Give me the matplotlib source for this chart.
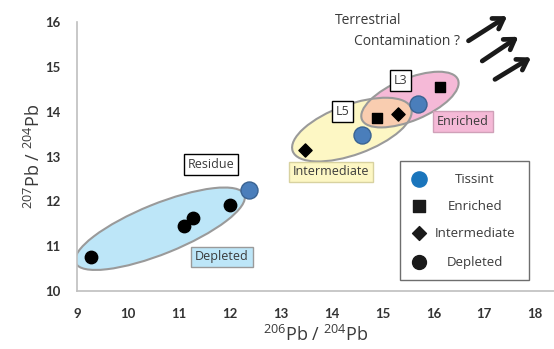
import matplotlib
matplotlib.use("Agg")
import matplotlib.pyplot as plt
from matplotlib.patches import Ellipse, Rectangle
from matplotlib.transforms import ScaledTranslation

plt.rcParams["font.family"] = ["Open Sans", "DejaVu Sans"]
plt.rcParams["mathtext.fontset"] = "custom"
plt.rcParams["mathtext.rm"] = "Open Sans"
plt.rcParams["mathtext.default"] = "regular"

# data
tissint_x = [12.38, 14.60, 15.69]
tissint_y = [12.26, 13.49, 14.18]
enriched_x = [14.90, 16.13]
enriched_y = [13.85, 14.55]
intermediate_x = [13.48, 15.30]
intermediate_y = [13.15, 13.94]
depleted_x = [9.27, 11.11, 11.28, 12.00]
depleted_y = [10.77, 11.46, 11.62, 11.93]

x_ticks = [9, 10, 11, 12, 13, 14, 15, 16, 17, 18]
y_ticks = [10, 11, 12, 13, 14, 15, 16]

legend_labels = ["Tissint", "Enriched", "Intermediate", "Depleted"]

EDGE = "#9a9a9a"
BLUE_FILL = "#bde6f8"
YELLOW_FILL = "#fdf7c4"
PINK_FILL = "#f5b9d7"
PEACH_FILL = "#f9cdb0"
TEXT = "#3a3a3a"

fig = plt.figure(figsize=(5.54, 3.49), dpi=100)
ax = fig.add_axes([0.139, 0.166, 0.861, 0.771])
ax.set_xlim(9, 18.37)
ax.set_ylim(10, 16)


def ellipse(cx, cy, w, h, angle, **kw):
    # size in inches, centre in data coords
    tr = fig.dpi_scale_trans + ScaledTranslation(cx, cy, ax.transData)
    e = Ellipse((0, 0), w, h, angle=angle, transform=tr, **kw)
    ax.add_patch(e)
    return e


# fields
ellipse(10.63, 11.39, 1.82, 0.50, 22, facecolor=BLUE_FILL, edgecolor=EDGE, lw=1.5, zorder=1)
yel = ellipse(14.40, 13.60, 1.26, 0.50, 20, facecolor=YELLOW_FILL, edgecolor="none", zorder=1)
ellipse(15.54, 14.27, 1.04, 0.42, 22.6, facecolor=PINK_FILL, edgecolor="none", zorder=1.1)
overlap = ellipse(15.54, 14.27, 1.04, 0.42, 22.6, facecolor=PEACH_FILL, edgecolor="none", zorder=1.2)
overlap.set_clip_path(yel)
ellipse(14.40, 13.60, 1.26, 0.50, 20, facecolor="none", edgecolor=EDGE, lw=1.5, zorder=1.3)
ellipse(15.54, 14.27, 1.04, 0.42, 22.6, facecolor="none", edgecolor=EDGE, lw=1.5, zorder=1.3)

# points
ax.scatter(depleted_x, depleted_y, s=80, marker="o", color="black", zorder=3)
ax.scatter(intermediate_x, intermediate_y, s=45, marker="D", color="black", zorder=3)
ax.scatter(enriched_x, enriched_y, s=60, marker="s", color="black", zorder=3)
ax.scatter(tissint_x, tissint_y, s=150, marker="o", color="#4a7ebb",
           edgecolor="#3a6392", lw=1.0, zorder=3)


# field labels
def label(x, y, s, fc, ec):
    ax.text(x, y, s, ha="center", va="center", fontsize=9, color=TEXT, zorder=4,
            bbox=dict(boxstyle="square,pad=0.3", fc=fc, ec=ec, lw=1.0))


label(11.85, 10.76, "Depleted", BLUE_FILL, EDGE)
label(13.99, 12.66, "Intermediate", YELLOW_FILL, "#d8d2a0")
label(16.58, 13.78, "Enriched", PINK_FILL, "#d0a0b8")
label(11.63, 12.82, "Residue", "white", "black")
label(14.21, 14.00, "L5", "white", "black")
label(15.35, 14.70, "L3", "white", "black")

ax.text(14.72, 16.04, "Terrestrial", ha="center", va="center", fontsize=10, color=TEXT)
ax.text(15.48, 15.57, "Contamination ?", ha="center", va="center", fontsize=10, color=TEXT)

arrows = [((16.69, 15.58), (17.45, 16.13)),
          ((16.96, 15.13), (17.67, 15.67)),
          ((17.21, 14.72), (17.92, 15.21))]
for start, end in arrows:
    ax.annotate("", xy=end, xytext=start, annotation_clip=False,
                arrowprops=dict(arrowstyle="->,head_length=0.7,head_width=0.45",
                                color="#1a1a1a", lw=3.4, shrinkA=0, shrinkB=0))

# legend drawn by hand so text can be centred
ax.add_patch(Rectangle((0.677, 0.041), 0.270, 0.442, transform=ax.transAxes,
                       fc="white", ec="#6e6e6e", lw=1.0, zorder=5))
leg_y = [(291 - py) / 269 for py in (179, 206, 233, 262)]
markers = [dict(marker="o", s=120, color="#1a75bc"),
           dict(marker="s", s=70, color="#1a1a1a"),
           dict(marker="D", s=50, color="#1a1a1a"),
           dict(marker="o", s=100, color="#1a1a1a")]
for yy, lab, mk in zip(leg_y, legend_labels, markers):
    ax.scatter([0.717], [yy], transform=ax.transAxes, zorder=6, clip_on=False, **mk)
    ax.text(0.834, yy, lab, transform=ax.transAxes, ha="center", va="center",
            fontsize=9.5, color=TEXT, zorder=6)

ax.set_xticks(x_ticks)
ax.set_yticks(y_ticks)
ax.tick_params(length=0, pad=12, labelsize=9.5, labelcolor="#333333")
for t in ax.get_xticklabels() + ax.get_yticklabels():
    t.set_fontweight("bold")
    t.set_fontfamily(["Lato", "DejaVu Sans"])

for side in ("top", "right"):
    ax.spines[side].set_visible(False)
for side in ("left", "bottom"):
    ax.spines[side].set_color("#bfbfbf")
    ax.spines[side].set_linewidth(1.2)

ax.set_xlabel("$^{206}$Pb / $^{204}$Pb", fontsize=13, color=TEXT, labelpad=4)
ax.set_ylabel("$^{207}$Pb / $^{204}$Pb", fontsize=13, color=TEXT, labelpad=1)

fig.savefig("out.png", dpi=100)
